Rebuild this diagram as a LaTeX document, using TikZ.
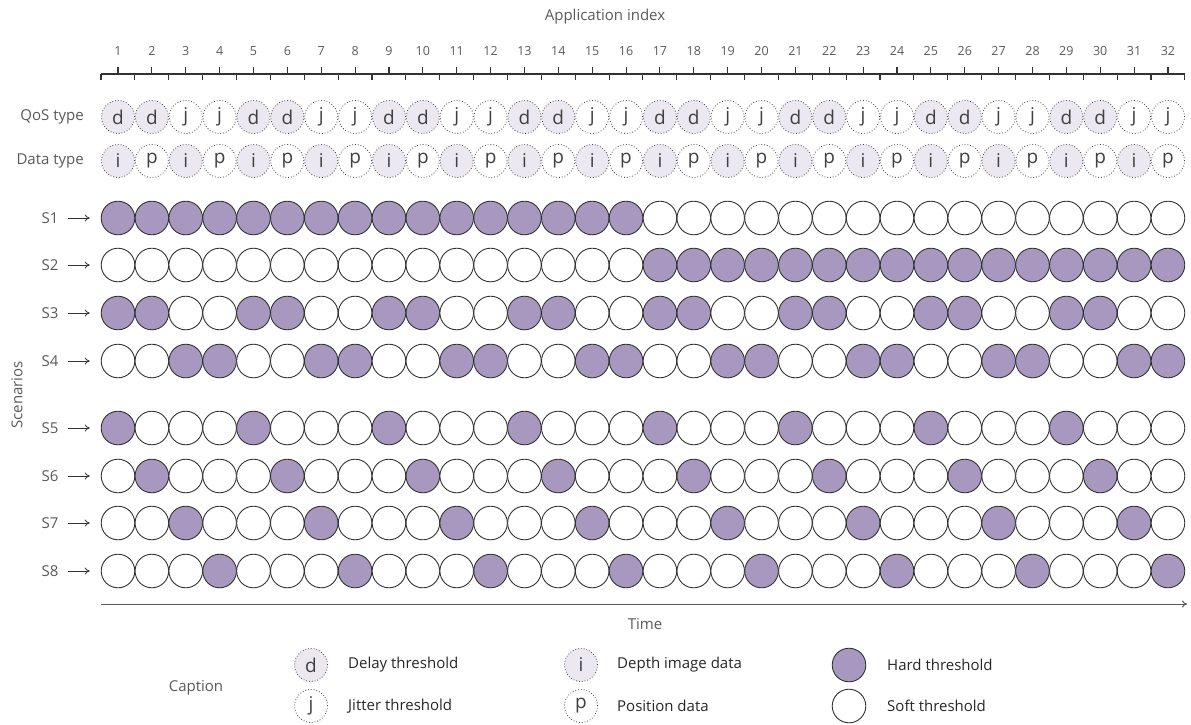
\documentclass[tikz,border=0pt]{standalone}
\usepackage{fontspec}
\setmainfont{Open Sans}
\usetikzlibrary{arrows.meta}
\definecolor{hard}{HTML}{A898C0}
\definecolor{lite}{HTML}{ECE8F1}
\definecolor{txt}{HTML}{595959}
\definecolor{ink}{HTML}{333333}
\begin{document}
\begin{tikzpicture}[x=1pt,y=-1pt,
  appc/.style={circle,draw=ink,line width=0.9pt,minimum size=33.6pt,inner sep=0pt},
  hardc/.style={appc,fill=hard},
  softc/.style={appc,fill=white},
  dotc/.style={circle,draw=black!75,dotted,line width=0.8pt,minimum size=33pt,inner sep=0pt,
    font=\fontsize{19}{19}\selectfont,text=black!75},
  dfill/.style={dotc,fill=lite},
  dwhite/.style={dotc,fill=white},
  lab/.style={font=\fontsize{15}{15}\selectfont,text=txt,inner sep=0pt},
  num/.style={font=\fontsize{12.5}{12.5}\selectfont,text=txt,inner sep=0pt},
  legt/.style={font=\fontsize{15}{15}\selectfont,text=black!85,inner sep=0pt,anchor=west},
  sarrow/.style={-{To[length=5pt,width=7pt]},line width=0.8pt,draw=ink},
  ruler/.style={line width=1.1pt,draw=ink},
]
\useasboundingbox (0,0) rectangle (1191,724);

% title
\node[lab] (title) at (605,17) {Application index};

% ruler
\coordinate (r0) at (101,74);
\coordinate (r1) at (1185,74);
\draw[ruler] (r0) -- (r1);
\foreach \k in {0,...,32}{
  \pgfmathsetmacro\x{101+33.87*\k}
  \draw[ruler] (\x,74) -- (\x,80);
}
\foreach \i in {1,...,32}{
  \pgfmathsetmacro\x{84.13+33.87*\i}
  \draw[ruler] (\x,74) -- (\x,67);
  \node[num] (n\i) at (\x,51) {\i};
}

% QoS and data type rows
\node[lab,anchor=east] (qlab) at (84,117) {QoS type};
\node[lab,anchor=east] (dlab) at (84,161) {Data type};
\foreach \i in {1,...,32}{
  \pgfmathsetmacro\x{84.13+33.87*\i}
  \pgfmathtruncatemacro\m{mod(\i-1,4)}
  \pgfmathtruncatemacro\od{mod(\i,2)}
  \ifnum\m<2
    \node[dfill] (q\i) at (\x,117) {d};
  \else
    \node[dwhite] (q\i) at (\x,117) {j};
  \fi
  \ifnum\od=1
    \node[dfill] (t\i) at (\x,161) {i};
  \else
    \node[dwhite] (t\i) at (\x,161) {p};
  \fi
}

% scenarios
\node[lab,rotate=90] (scen) at (17,395) {Scenarios};
\foreach \r/\y/\cond in {1/218/{\i<17},2/265/{\i>16},3/313/{\m<2},4/361/{\m>1},
                         5/428/{\m==0},6/476/{\m==1},7/523/{\m==2},8/571/{\m==3}}{
  \node[lab] (sl\r) at (50,\y) {S\r};
  \foreach \i in {1,...,32}{
    \pgfmathsetmacro\x{84.13+33.87*\i}
    \pgfmathtruncatemacro\m{mod(\i-1,4)}
    \pgfmathtruncatemacro\h{\cond}
    \ifnum\h=1
      \node[hardc] (s\r-\i) at (\x,\y) {};
    \else
      \node[softc] (s\r-\i) at (\x,\y) {};
    \fi
  }
  \draw[sarrow] ([xshift=9pt]sl\r.east) -- ([xshift=-11pt]s\r-1.west);
}

% time axis
\coordinate (ta) at (101,604);
\coordinate (tb) at (1187,604);
\draw[line width=1pt,draw=black!65,-{To[length=5pt,width=7pt]}] (ta) -- (tb);
\node[lab] (time) at (645,624) {Time};

% caption / legend
\node[lab] (cap) at (196,688) {Caption};
\node[dfill] (ld) at (311,665) {d};
\node[dwhite] (lj) at (311,706) {j};
\node[legt] (ldt) at (348,665) {Delay threshold};
\node[legt] (ljt) at (348,706) {Jitter threshold};
\node[dfill] (li) at (581,665) {i};
\node[dwhite] (lp) at (581,706) {p};
\node[legt] (lit) at (617,665) {Depth image data};
\node[legt] (lpt) at (617,706) {Position data};
\node[hardc] (lh) at (849,665) {};
\node[softc] (ls) at (849,706) {};
\node[legt] (lht) at (887,665) {Hard threshold};
\node[legt] (lst) at (887,706) {Soft threshold};
\end{tikzpicture}
\end{document}
